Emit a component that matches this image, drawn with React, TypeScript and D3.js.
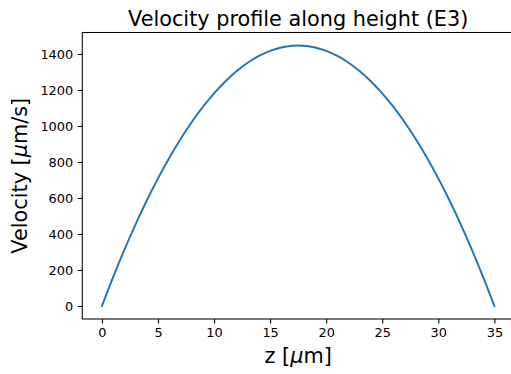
import React, { useEffect, useRef } from "react";
import * as d3 from "d3";

// Height positions across the channel (µm)
const zPositions = [
  0, 1, 2, 3, 4, 5, 6, 7, 8, 9, 10, 11, 12, 13, 14, 15, 16, 17, 17.5,
  18, 19, 20, 21, 22, 23, 24, 25, 26, 27, 28, 29, 30, 31, 32, 33, 34, 35,
];
// Flow velocity at each height (µm/s)
const velocities = [
  0, 160.7, 311.8, 453.6, 585.9, 708.7, 822.2, 926.1, 1020.6, 1105.6, 1181.2,
  1247.3, 1304.0, 1351.4, 1389.1, 1417.5, 1436.4, 1445.8, 1447,
  1445.8, 1436.4, 1417.5, 1389.1, 1351.4, 1304.0, 1247.3, 1181.2, 1105.6,
  1020.6, 926.1, 822.2, 708.7, 585.9, 453.6, 311.8, 160.7, 0,
];
const xTicks = [0, 5, 10, 15, 20, 25, 30, 35];
const yTicks = [0, 200, 400, 600, 800, 1000, 1200, 1400];

const W = 511;
const H = 374;
const FONT = "'DejaVu Sans', sans-serif";
const BIG = 20.8;
const SMALL = 12.9;

export default function App() {
  const ref = useRef<SVGSVGElement | null>(null);

  useEffect(() => {
    const svg = d3.select(ref.current);
    svg.selectAll("*").remove();

    const left = 82.3;
    const top = 32.5;
    const bottom = 319;
    const right = 514;

    const xMin = d3.min(zPositions)!;
    const xMax = d3.max(zPositions)!;
    const yMin = d3.min(velocities)!;
    const yMax = d3.max(velocities)!;
    const xPad = (xMax - xMin) * 0.05;
    const yPad = (yMax - yMin) * 0.05;

    const x = d3.scaleLinear().domain([xMin - xPad, xMax + xPad]).range([left, right]);
    const y = d3.scaleLinear().domain([yMin - yPad, yMax + yPad]).range([bottom, top]);

    const data = zPositions.map((z, i) => ({ z, v: velocities[i] }));

    const line = d3
      .line<{ z: number; v: number }>()
      .x((d) => x(d.z))
      .y((d) => y(d.v))
      .curve(d3.curveCatmullRom);

    svg
      .append("path")
      .datum(data)
      .attr("d", line)
      .attr("fill", "none")
      .attr("stroke", "#1f77b4")
      .attr("stroke-width", 1.95)
      .attr("stroke-linecap", "square");

    // Spines
    svg
      .append("rect")
      .attr("x", left)
      .attr("y", top)
      .attr("width", right - left)
      .attr("height", bottom - top)
      .attr("fill", "none")
      .attr("stroke", "#000")
      .attr("stroke-width", 1.05);

    // X axis
    const xAxis = d3.axisBottom(x).tickValues(xTicks).tickSize(4.5).tickPadding(4.6).tickFormat(d3.format("d"));
    const gx = svg.append("g").attr("transform", `translate(0,${bottom})`).call(xAxis);
    gx.select(".domain").remove();
    gx.selectAll("line").attr("stroke", "#000").attr("stroke-width", 1.05);
    gx.selectAll("text").attr("font-family", FONT).attr("font-size", SMALL).attr("fill", "#000");

    // Y axis
    const yAxis = d3.axisLeft(y).tickValues(yTicks).tickSize(4.5).tickPadding(4.6).tickFormat(d3.format("d"));
    const gy = svg.append("g").attr("transform", `translate(${left},0)`).call(yAxis);
    gy.select(".domain").remove();
    gy.selectAll("line").attr("stroke", "#000").attr("stroke-width", 1.05);
    gy.selectAll("text").attr("font-family", FONT).attr("font-size", SMALL).attr("fill", "#000");

    // Title
    svg
      .append("text")
      .attr("x", (left + right) / 2)
      .attr("y", 26)
      .attr("text-anchor", "middle")
      .attr("font-family", FONT)
      .attr("font-size", BIG)
      .attr("fill", "#000")
      .text("Velocity profile along height (E3)");

    // X label
    const xl = svg
      .append("text")
      .attr("x", (left + right) / 2)
      .attr("y", 363)
      .attr("text-anchor", "middle")
      .attr("font-family", FONT)
      .attr("font-size", BIG)
      .attr("fill", "#000");
    xl.append("tspan").text("z [");
    xl.append("tspan").attr("font-style", "italic").text("μ");
    xl.append("tspan").text("m]");

    // Y label
    const yl = svg
      .append("text")
      .attr("transform", `translate(27,${(top + bottom) / 2}) rotate(-90)`)
      .attr("text-anchor", "middle")
      .attr("font-family", FONT)
      .attr("font-size", BIG)
      .attr("fill", "#000");
    yl.append("tspan").text("Velocity [");
    yl.append("tspan").attr("font-style", "italic").text("μ");
    yl.append("tspan").text("m/s]");
  }, []);

  return (
    <svg
      ref={ref}
      width={W}
      height={H}
      style={{ position: "absolute", left: 0, top: 0, background: "#fff" }}
    />
  );
}
